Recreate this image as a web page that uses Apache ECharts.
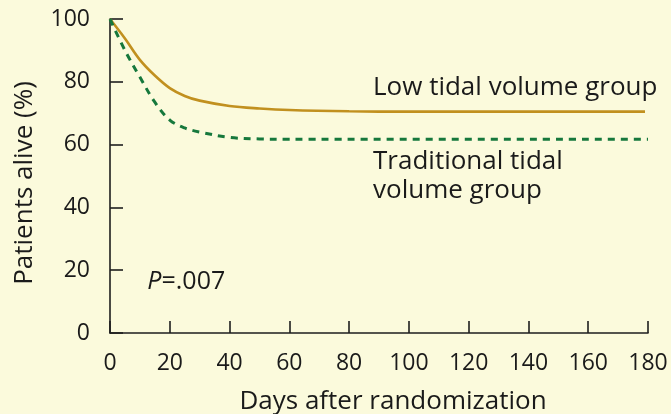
<!DOCTYPE html>
<html><head><meta charset="utf-8">
<script src="https://cdn.jsdelivr.net/npm/echarts@6/dist/echarts.min.js"></script>
<style>html,body{margin:0;padding:0;background:#fbfadc;}#c{width:671px;height:414px;}</style>
</head><body><div id="c"></div>
<script>
var xTicks = [0, 20, 40, 60, 80, 100, 120, 140, 160, 180];
var yTicks = [0, 20, 40, 60, 80, 100];
var lowDays = [0, 5, 10, 15, 20, 25, 30, 40, 50, 60, 80, 100, 179];
var lowAlive = [100, 93.8, 87, 82, 78, 75.5, 74, 72.3, 71.5, 71, 70.6, 70.5, 70.5];
var tradDays = [0, 5, 10, 15, 20, 25, 30, 40, 50, 60, 180];
var tradAlive = [100, 90, 81.5, 73.5, 67.8, 65.3, 64, 62.3, 61.8, 61.7, 61.7];
var labels = [
  {x: 88, y: 78, lines: ['Low tidal volume group']},
  {x: 88, y: 50, lines: ['Traditional tidal', 'volume group']}
];
var pLabel = {x: 12.5, y: 16.2};

var FONT = 'Open Sans';
var chart = echarts.init(document.getElementById('c'), null, {renderer: 'canvas'});
var axisCol = '#1e1e1e';
var GL = 110, GR = 23, W = 671;
function pairs(a, b) { return a.map(function (v, i) { return [v, b[i]]; }); }
var option = {
  backgroundColor: '#fbfadc',
  animation: false,
  grid: {left: GL, right: GR, top: 19, bottom: 81, containLabel: false, outerBoundsMode: 'none'},
  xAxis: {
    type: 'value', min: 0, max: 180, interval: 20,
    name: 'Days after randomization', nameLocation: 'middle', nameGap: 56,
    nameTextStyle: {fontFamily: FONT, fontSize: 26, color: '#1a1a1a', padding: [0, 0, 0, 28]},
    axisLine: {show: true, lineStyle: {color: axisCol, width: 1.6}},
    axisTick: {show: true, inside: false, length: -12, lineStyle: {color: axisCol, width: 1.6}},
    axisLabel: {fontFamily: FONT, fontSize: 23, color: '#1a1a1a', margin: 19,
      formatter: function (v) { return xTicks.indexOf(v) >= 0 ? String(v) : ''; }},
    splitLine: {show: false}
  },
  yAxis: [{
    type: 'value', min: 0, max: 100, interval: 20,
    name: 'Patients alive (%)', nameLocation: 'middle', nameGap: 72, nameRotate: 90,
    nameTextStyle: {fontFamily: FONT, fontSize: 26, color: '#1a1a1a', padding: [0, 14, 0, 0]},
    axisLine: {show: true, lineStyle: {color: axisCol, width: 1.6}},
    axisTick: {show: false},
    axisLabel: {fontFamily: FONT, fontSize: 23, color: '#1a1a1a', margin: 20,
      formatter: function (v) { return yTicks.indexOf(v) >= 0 ? String(v) : ''; }},
    splitLine: {show: false}
  }, {
    type: 'value', min: 0, max: 100, interval: 20, position: 'right', offset: -(W - GL - GR),
    axisLine: {show: false}, axisLabel: {show: false}, splitLine: {show: false},
    axisTick: {show: true, inside: false, length: 13, lineStyle: {color: axisCol, width: 1.6}}
  }],
  series: [
    {type: 'line', name: 'Low tidal volume group', data: pairs(lowDays, lowAlive), smooth: 0.35,
     showSymbol: false, lineStyle: {color: '#c1901f', width: 2.6}},
    {type: 'line', name: 'Traditional tidal volume group', data: pairs(tradDays, tradAlive), smooth: 0.35,
     showSymbol: false, lineStyle: {color: '#16783c', width: 3, type: [7, 6]}}
  ]
};
chart.setOption(option);
var g = [];
labels.forEach(function (l) {
  var p = chart.convertToPixel({gridIndex: 0}, [l.x, l.y]);
  g.push({type: 'text', x: p[0], y: p[1], style: {text: l.lines.join('\n'), fontFamily: FONT, fontSize: 26,
    fill: '#1a1a1a', lineHeight: 29, textVerticalAlign: 'middle'}});
});
var pp = chart.convertToPixel({gridIndex: 0}, [pLabel.x, pLabel.y]);
g.push({type: 'text', x: pp[0], y: pp[1], style: {
  text: '{i|P}=.007', fontFamily: FONT, fontSize: 25, fill: '#1a1a1a', textVerticalAlign: 'middle',
  rich: {i: {fontStyle: 'italic', fontFamily: FONT, fontSize: 25, fill: '#1a1a1a'}}}});
chart.setOption({graphic: g});
</script></body></html>
